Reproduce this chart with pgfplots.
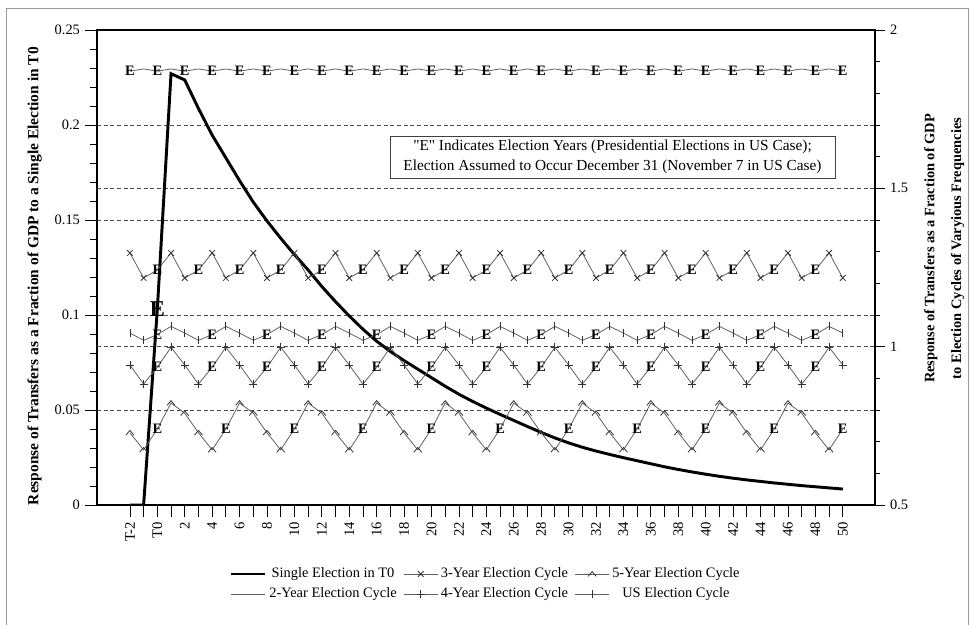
\documentclass[border=0pt]{standalone}
\usepackage{fontspec}
\setmainfont{Liberation Serif}
\newfontfamily\rawfont{Liberation Serif}[Ligatures=TeXOff]
\usepackage{pgfplots}
\usepackage{pgfplotstable}
\pgfplotsset{compat=1.18}

\pgfdeclareplotmark{caret}{%
  \pgfpathmoveto{\pgfqpoint{-\pgfplotmarksize}{-0.6\pgfplotmarksize}}%
  \pgfpathlineto{\pgfqpoint{0pt}{0.6\pgfplotmarksize}}%
  \pgfpathlineto{\pgfqpoint{\pgfplotmarksize}{-0.6\pgfplotmarksize}}%
  \pgfusepathqstroke}

% Single election in T0 (left axis)
\pgfplotstableread[row sep=\\]{
x y\\
-2 0\\ -1 0\\ 0 0.103\\ 1 0.227\\ 2 0.2237\\ 3 0.2087\\ 4 0.1947\\ 5 0.1827\\ 6 0.1707\\ 7 0.1594\\
8 0.1495\\ 9 0.1404\\ 10 0.1318\\ 11 0.1237\\ 12 0.1150\\ 13 0.1070\\ 14 0.0995\\ 15 0.0925\\
16 0.0862\\ 17 0.0808\\ 18 0.0760\\ 19 0.0715\\ 20 0.0670\\ 21 0.0625\\ 22 0.0583\\ 23 0.0545\\
24 0.0510\\ 25 0.0477\\ 26 0.0445\\ 27 0.0413\\ 28 0.0382\\ 29 0.0353\\ 30 0.0327\\ 31 0.0304\\
32 0.0284\\ 33 0.0266\\ 34 0.0249\\ 35 0.0233\\ 36 0.0217\\ 37 0.0201\\ 38 0.0187\\ 39 0.0174\\
40 0.0162\\ 41 0.0151\\ 42 0.0141\\ 43 0.0132\\ 44 0.0124\\ 45 0.0116\\ 46 0.0109\\ 47 0.0102\\
48 0.0096\\ 49 0.0090\\ 50 0.0084\\
}\tSingle

% 2-year cycle (right axis)
\pgfplotstableread[row sep=\\]{
x y\\
-2 1.870\\ -1 1.877\\ 0 1.870\\ 1 1.877\\ 2 1.870\\ 3 1.877\\ 4 1.870\\ 5 1.877\\ 6 1.870\\ 7 1.877\\
8 1.870\\ 9 1.877\\ 10 1.870\\ 11 1.877\\ 12 1.870\\ 13 1.877\\ 14 1.870\\ 15 1.877\\ 16 1.870\\
17 1.877\\ 18 1.870\\ 19 1.877\\ 20 1.870\\ 21 1.877\\ 22 1.870\\ 23 1.877\\ 24 1.870\\ 25 1.877\\
26 1.870\\ 27 1.877\\ 28 1.870\\ 29 1.877\\ 30 1.870\\ 31 1.877\\ 32 1.870\\ 33 1.877\\ 34 1.870\\
35 1.877\\ 36 1.870\\ 37 1.877\\ 38 1.870\\ 39 1.877\\ 40 1.870\\ 41 1.877\\ 42 1.870\\ 43 1.877\\
44 1.870\\ 45 1.877\\ 46 1.870\\ 47 1.877\\ 48 1.870\\ 49 1.877\\ 50 1.870\\
}\tTwo

% 3-year cycle
\pgfplotstableread[row sep=\\]{
x y\\
-2 1.296\\ -1 1.217\\ 0 1.242\\ 1 1.296\\ 2 1.217\\ 3 1.242\\ 4 1.296\\ 5 1.217\\ 6 1.242\\
7 1.296\\ 8 1.217\\ 9 1.242\\ 10 1.296\\ 11 1.217\\ 12 1.242\\ 13 1.296\\ 14 1.217\\ 15 1.242\\
16 1.296\\ 17 1.217\\ 18 1.242\\ 19 1.296\\ 20 1.217\\ 21 1.242\\ 22 1.296\\ 23 1.217\\ 24 1.242\\
25 1.296\\ 26 1.217\\ 27 1.242\\ 28 1.296\\ 29 1.217\\ 30 1.242\\ 31 1.296\\ 32 1.217\\ 33 1.242\\
34 1.296\\ 35 1.217\\ 36 1.242\\ 37 1.296\\ 38 1.217\\ 39 1.242\\ 40 1.296\\ 41 1.217\\ 42 1.242\\
43 1.296\\ 44 1.217\\ 45 1.242\\ 46 1.296\\ 47 1.217\\ 48 1.242\\ 49 1.296\\ 50 1.217\\
}\tThree

% 4-year cycle
\pgfplotstableread[row sep=\\]{
x y\\
-2 0.942\\ -1 0.882\\ 0 0.935\\ 1 0.998\\ 2 0.942\\ 3 0.882\\ 4 0.935\\ 5 0.998\\ 6 0.942\\
7 0.882\\ 8 0.935\\ 9 0.998\\ 10 0.942\\ 11 0.882\\ 12 0.935\\ 13 0.998\\ 14 0.942\\ 15 0.882\\
16 0.935\\ 17 0.998\\ 18 0.942\\ 19 0.882\\ 20 0.935\\ 21 0.998\\ 22 0.942\\ 23 0.882\\ 24 0.935\\
25 0.998\\ 26 0.942\\ 27 0.882\\ 28 0.935\\ 29 0.998\\ 30 0.942\\ 31 0.882\\ 32 0.935\\ 33 0.998\\
34 0.942\\ 35 0.882\\ 36 0.935\\ 37 0.998\\ 38 0.942\\ 39 0.882\\ 40 0.935\\ 41 0.998\\ 42 0.942\\
43 0.882\\ 44 0.935\\ 45 0.998\\ 46 0.942\\ 47 0.882\\ 48 0.935\\ 49 0.998\\ 50 0.942\\
}\tFour

% US cycle
\pgfplotstableread[row sep=\\]{
x y\\
-2 1.043\\ -1 1.020\\ 0 1.038\\ 1 1.064\\ 2 1.043\\ 3 1.020\\ 4 1.038\\ 5 1.064\\ 6 1.043\\
7 1.020\\ 8 1.038\\ 9 1.064\\ 10 1.043\\ 11 1.020\\ 12 1.038\\ 13 1.064\\ 14 1.043\\ 15 1.020\\
16 1.038\\ 17 1.064\\ 18 1.043\\ 19 1.020\\ 20 1.038\\ 21 1.064\\ 22 1.043\\ 23 1.020\\ 24 1.038\\
25 1.064\\ 26 1.043\\ 27 1.020\\ 28 1.038\\ 29 1.064\\ 30 1.043\\ 31 1.020\\ 32 1.038\\ 33 1.064\\
34 1.043\\ 35 1.020\\ 36 1.038\\ 37 1.064\\ 38 1.043\\ 39 1.020\\ 40 1.038\\ 41 1.064\\ 42 1.043\\
43 1.020\\ 44 1.038\\ 45 1.064\\ 46 1.043\\ 47 1.020\\ 48 1.038\\ 49 1.064\\ 50 1.043\\
}\tUS

% 5-year cycle
\pgfplotstableread[row sep=\\]{
x y\\
-2 0.728\\ -1 0.674\\ 0 0.740\\ 1 0.822\\ 2 0.790\\ 3 0.728\\ 4 0.674\\ 5 0.740\\ 6 0.822\\
7 0.790\\ 8 0.728\\ 9 0.674\\ 10 0.740\\ 11 0.822\\ 12 0.790\\ 13 0.728\\ 14 0.674\\ 15 0.740\\
16 0.822\\ 17 0.790\\ 18 0.728\\ 19 0.674\\ 20 0.740\\ 21 0.822\\ 22 0.790\\ 23 0.728\\ 24 0.674\\
25 0.740\\ 26 0.822\\ 27 0.790\\ 28 0.728\\ 29 0.674\\ 30 0.740\\ 31 0.822\\ 32 0.790\\ 33 0.728\\
34 0.674\\ 35 0.740\\ 36 0.822\\ 37 0.790\\ 38 0.728\\ 39 0.674\\ 40 0.740\\ 41 0.822\\ 42 0.790\\
43 0.728\\ 44 0.674\\ 45 0.740\\ 46 0.822\\ 47 0.790\\ 48 0.728\\ 49 0.674\\ 50 0.740\\
}\tFive

\pgfplotsset{
  cyc/.style={color=black!62, line width=0.6pt, mark size=3pt,
    mark options={solid, draw=black!80, line width=0.6pt}},
  emark/.style={only marks, mark=text, text mark={E}, text mark as node=true,
    text mark style={font=\bfseries\fontsize{10.8}{10.8}\selectfont, text=black, inner sep=0pt, anchor=center},
    forget plot},
}

\begin{document}
\fontsize{10.8}{13}\selectfont
\begin{tikzpicture}
\useasboundingbox (-72.75pt,-90pt) rectangle (661.5pt,378.75pt);
\draw[black!40, line width=0.6pt] (-68.25pt,-90pt) -- (-68.25pt,372.75pt) -- (653.25pt,372.75pt) -- (653.25pt,-90pt);

\begin{axis}[
  at={(0pt,0pt)}, anchor=south west, scale only axis,
  width=583.5pt, height=356.25pt,
  xmin=-4.4, xmax=52.35, ymin=0, ymax=0.25,
  axis line style={line width=1.1pt, black},
  tick pos=left, tick align=outside,
  major tick length=9pt, minor tick length=5pt,
  tick style={black, line width=0.6pt},
  xtick={-2,-1,...,50},
  xticklabels={T-2,,T0,,2,,4,,6,,8,,10,,12,,14,,16,,18,,20,,22,,24,,26,,28,,30,,32,,34,,36,,38,,40,,42,,44,,46,,48,,50},
  xticklabel style={rotate=90, anchor=east, font=\fontsize{11}{13}\selectfont},
  ytick={0,0.05,0.1,0.15,0.2,0.25},
  yticklabels={0,0.05,0.1,0.15,0.2,0.25},
  minor ytick={0.01,0.02,0.03,0.04,0.06,0.07,0.08,0.09,0.11,0.12,0.13,0.14,0.16,0.17,0.18,0.19,0.21,0.22,0.23,0.24},
  ymajorgrids,
  major grid style={black!70, line width=0.6pt, dash pattern=on 3pt off 2pt},
  extra y ticks={0.0833333,0.1666667},
  extra y tick labels={},
  extra y tick style={grid=major, tick style={draw=none}},
  ylabel={Response of Transfers as a Fraction of GDP to a Single Election in T0},
  ylabel style={font=\bfseries\fontsize{11.6}{13}\selectfont, at={(axis description cs:-0.08,0.482)}, anchor=center},
  /pgf/number format/assume math mode=true,
]
\addplot[black, line width=2.2pt, forget plot] table {\tSingle};
\addplot[only marks, mark=text, text mark={E}, text mark as node=true,
  text mark style={font=\bfseries\fontsize{17}{17}\selectfont, text=black, inner sep=0pt, anchor=center},
  mark indices={3}, forget plot] table {\tSingle};
\end{axis}

\begin{axis}[
  at={(0pt,0pt)}, anchor=south west, scale only axis,
  width=583.5pt, height=356.25pt,
  xmin=-4.4, xmax=52.35, ymin=0.5, ymax=2,
  axis x line=none, axis y line*=right,
  y axis line style={line width=1.5pt, black},
  tick align=outside, major tick length=7.5pt, minor tick length=3.75pt,
  tick style={black, line width=0.6pt},
  ytick={0.5,1,1.5,2}, yticklabels={0.5,1,1.5,2},
  minor ytick={0.6,0.7,0.8,0.9,1.1,1.2,1.3,1.4,1.6,1.7,1.8,1.9},
  ylabel={Response of Transfers as a Fraction of GDP\\to Election Cycles of Varyious Frequencies},
  ylabel style={font=\bfseries\fontsize{10.8}{20}\selectfont, align=center, at={(axis description cs:1.089,0.54)}, anchor=center},
  legend columns=3,
  legend style={draw=none, fill=none, at={(0.5,-0.118)}, anchor=north,
    nodes={inner xsep=2pt, inner ysep=2.5pt, text height=7.5pt, text depth=2.5pt},
    /tikz/every even column/.append style={column sep=3pt}},
  legend image code/.code={\draw[mark repeat=2,mark phase=2,#1] plot coordinates {(0pt,0pt) (12.75pt,0pt) (25.5pt,0pt)};},
  /pgf/number format/assume math mode=true,
]
% 2-year
\addplot[cyc, no markers, forget plot] table {\tTwo};
\addplot[emark, mark repeat=2, mark phase=1] table {\tTwo};
% 3-year
\addplot[cyc, no markers, forget plot] table {\tThree};
\addplot[cyc, only marks, mark=x, mark repeat=3, mark phase=1, forget plot] table {\tThree};
\addplot[cyc, only marks, mark=x, mark repeat=3, mark phase=2, forget plot] table {\tThree};
\addplot[emark, mark repeat=3, mark phase=3] table {\tThree};
% US
\addplot[cyc, no markers, forget plot] table {\tUS};
\addplot[cyc, only marks, mark=|, mark repeat=4, mark phase=1, forget plot] table {\tUS};
\addplot[cyc, only marks, mark=|, mark repeat=4, mark phase=2, forget plot] table {\tUS};
\addplot[cyc, only marks, mark=|, mark repeat=4, mark phase=4, forget plot] table {\tUS};
\addplot[emark, mark repeat=4, mark phase=3] table {\tUS};
% 4-year
\addplot[cyc, no markers, forget plot] table {\tFour};
\addplot[cyc, only marks, mark=+, mark repeat=4, mark phase=1, forget plot] table {\tFour};
\addplot[cyc, only marks, mark=+, mark repeat=4, mark phase=2, forget plot] table {\tFour};
\addplot[cyc, only marks, mark=+, mark repeat=4, mark phase=4, forget plot] table {\tFour};
\addplot[emark, mark repeat=4, mark phase=3] table {\tFour};
% 5-year
\addplot[cyc, no markers, forget plot] table {\tFive};
\addplot[cyc, only marks, mark=caret, mark repeat=5, mark phase=1, forget plot] table {\tFive};
\addplot[cyc, only marks, mark=caret, mark repeat=5, mark phase=2, forget plot] table {\tFive};
\addplot[cyc, only marks, mark=caret, mark repeat=5, mark phase=4, forget plot] table {\tFive};
\addplot[cyc, only marks, mark=caret, mark repeat=5, mark phase=5, forget plot] table {\tFive};
\addplot[emark, mark repeat=5, mark phase=3] table {\tFive};

\addlegendimage{black, line width=2.2pt}
\addlegendentry{Single Election in T0}
\addlegendimage{cyc, mark=x}
\addlegendentry{3-Year Election Cycle}
\addlegendimage{cyc, mark=caret}
\addlegendentry{5-Year Election Cycle}
\addlegendimage{cyc, no markers}
\addlegendentry{2-Year Election Cycle}
\addlegendimage{cyc, mark=+}
\addlegendentry{4-Year Election Cycle}
\addlegendimage{cyc, mark=|}
\addlegendentry{US Election Cycle}

\node[draw=black!75, line width=0.6pt, fill=white, align=center, inner xsep=10pt, inner ysep=3pt,
  font=\fontsize{11.5}{15}\selectfont] at (rel axis cs:0.6626,0.7326)
  {{\rawfont"}E{\rawfont"} Indicates Election Years (Presidential Elections in US Case);\\Election Assumed to Occur December 31 (November 7 in US Case)};
\end{axis}
\end{tikzpicture}
\end{document}
